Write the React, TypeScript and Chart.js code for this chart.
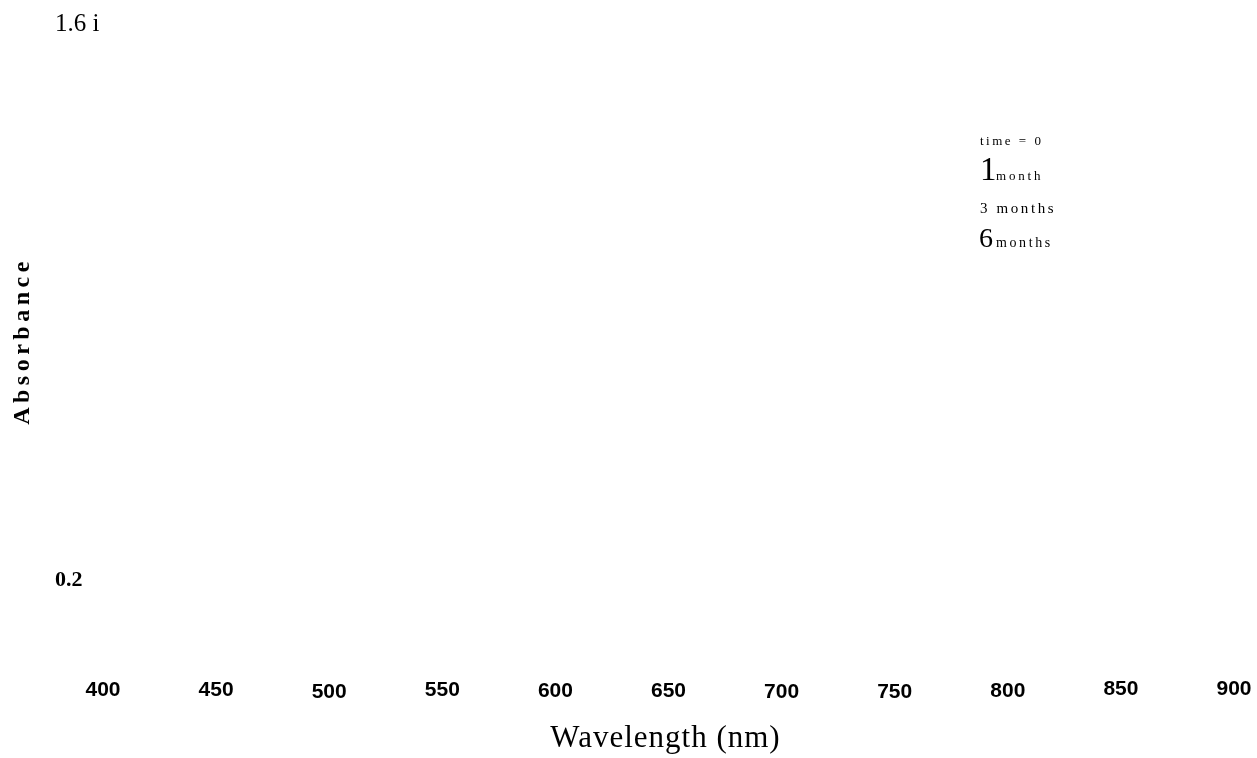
import React, { useEffect, useRef } from "react";
import { Chart, registerables } from "chart.js";

Chart.register(...registerables);

// ---- data ----
const wavelengthMin = 400;
const wavelengthMax = 900;
const wavelengthStep = 50;
const absorbanceTicks = [0.2, 1.6];
const absorbanceTickLabels = ["0.2", "1.6 i"];
const seriesLabels = ["time = 0", "1 month", "3 months", "6 months"];
// no curves are visible in the reference, so the series hold no points
const seriesTime0: { x: number; y: number }[] = [];
const seriesMonth1: { x: number; y: number }[] = [];
const seriesMonth3: { x: number; y: number }[] = [];
const seriesMonth6: { x: number; y: number }[] = [];
const xTitle = "Wavelength (nm)";
const yTitle = "Absorbance";

// ---- styles ----
const SERIF = "'Liberation Serif', 'Times New Roman', serif";
const SANS = "'Liberation Sans', Arial, sans-serif";
// small vertical stagger of the x tick labels seen in the reference (px)
const xTickShift = [0, 0, 2, 0, 1, 1, 2, 2, 1, -1, -1];
const legendStyles = [
  { leadSize: 0, size: 13, spacing: 2.5, baseline: 145, x: 980 },
  { leadSize: 33, size: 13, spacing: 2.8, baseline: 180, x: 980 },
  { leadSize: 0, size: 15, spacing: 2.6, baseline: 213, x: 980 },
  { leadSize: 28, size: 14, spacing: 2.6, baseline: 247, x: 979 },
];

const textPlugin = {
  id: "textPlugin",
  afterDraw(chart: any) {
    const ctx = chart.ctx as CanvasRenderingContext2D & { letterSpacing?: string };
    const area = chart.chartArea;
    ctx.save();
    ctx.fillStyle = "#000";

    // x title
    ctx.font = `31px ${SERIF}`;
    ctx.letterSpacing = "1px";
    ctx.textAlign = "left";
    ctx.textBaseline = "alphabetic";
    const w = ctx.measureText(xTitle).width;
    ctx.fillText(xTitle, (area.left + area.right) / 2 - 3 - w / 2, 747);

    // y title
    ctx.save();
    ctx.translate(23, 343);
    ctx.rotate(-Math.PI / 2);
    ctx.font = `bold 24px ${SERIF}`;
    ctx.letterSpacing = "4.5px";
    ctx.textBaseline = "middle";
    const wy = ctx.measureText(yTitle).width;
    ctx.fillText(yTitle, -wy / 2 + 2, 0);
    ctx.restore();

    // legend
    const dsets = chart.data.datasets;
    dsets.forEach((ds: any, i: number) => {
      const st = legendStyles[i];
      const label: string = ds.label;
      ctx.textBaseline = "alphabetic";
      if (st.leadSize > 0) {
        const sp = label.indexOf(" ");
        const lead = label.slice(0, sp);
        const rest = label.slice(sp + 1);
        ctx.font = `${st.leadSize}px ${SERIF}`;
        ctx.letterSpacing = "0px";
        ctx.fillText(lead, st.x, st.baseline);
        ctx.font = `${st.size}px ${SERIF}`;
        ctx.letterSpacing = `${st.spacing}px`;
        ctx.fillText(rest, 996, st.baseline);
      } else {
        ctx.font = `${st.size}px ${SERIF}`;
        ctx.letterSpacing = `${st.spacing}px`;
        ctx.fillText(label, st.x, st.baseline);
      }
    });
    ctx.restore();
  },
};

export default function App() {
  const ref = useRef<HTMLCanvasElement | null>(null);

  useEffect(() => {
    if (!ref.current) return;
    const chart = new Chart(ref.current, {
      type: "line",
      data: {
        datasets: [
          { label: seriesLabels[0], data: seriesTime0, borderColor: "#000", borderWidth: 1, pointRadius: 0 },
          { label: seriesLabels[1], data: seriesMonth1, borderColor: "#000", borderWidth: 1, pointRadius: 0 },
          { label: seriesLabels[2], data: seriesMonth3, borderColor: "#000", borderWidth: 1, pointRadius: 0 },
          { label: seriesLabels[3], data: seriesMonth6, borderColor: "#000", borderWidth: 1, pointRadius: 0 },
        ],
      },
      options: {
        responsive: false,
        animation: false,
        events: [],
        layout: { padding: { left: 55, right: 23, top: 24, bottom: 0 } },
        plugins: { legend: { display: false }, tooltip: { enabled: false }, title: { display: false } },
        scales: {
          x: {
            type: "linear",
            min: wavelengthMin,
            max: wavelengthMax,
            grid: { display: false, drawTicks: false },
            border: { display: false },
            ticks: {
              stepSize: wavelengthStep,
              padding: 98,
              color: "#000",
              maxRotation: 0,
              autoSkip: false,
              font: (c: any) => ({
                family: SANS,
                size: 21,
                weight: "bold",
                lineHeight: `${25.2 + 2 * (xTickShift[c.index] || 0)}px`,
              }),
              callback: (v: any) => String(v),
            },
            afterFit: (scale: any) => {
              scale.height = 758 - 580;
              scale.paddingLeft = 0;
              scale.paddingRight = 0;
            },
          },
          y: {
            type: "linear",
            min: absorbanceTicks[0],
            max: absorbanceTicks[absorbanceTicks.length - 1],
            grid: { display: false, drawTicks: false },
            border: { display: false },
            afterBuildTicks: (scale: any) => {
              scale.ticks = absorbanceTicks.map((v) => ({ value: v }));
            },
            ticks: {
              padding: 0,
              crossAlign: "far",
              color: "#000",
              autoSkip: false,
              callback: (_v: any, i: number) => absorbanceTickLabels[i],
              font: (c: any) =>
                c.tick && c.tick.value === absorbanceTicks[0]
                  ? { family: SERIF, size: 22, weight: "bold" }
                  : { family: SERIF, size: 25, weight: "normal" },
            },
            afterFit: (scale: any) => {
              scale.width = 103 - 55;
              scale.paddingTop = 0;
              scale.paddingBottom = 0;
            },
          },
        },
      },
      plugins: [textPlugin],
    });
    return () => chart.destroy();
  }, []);

  return (
    <div style={{ position: "absolute", left: 0, top: 0, width: 1257, height: 758, background: "#fff" }}>
      <canvas ref={ref} width={1257} height={758} style={{ display: "block" }} />
    </div>
  );
}
